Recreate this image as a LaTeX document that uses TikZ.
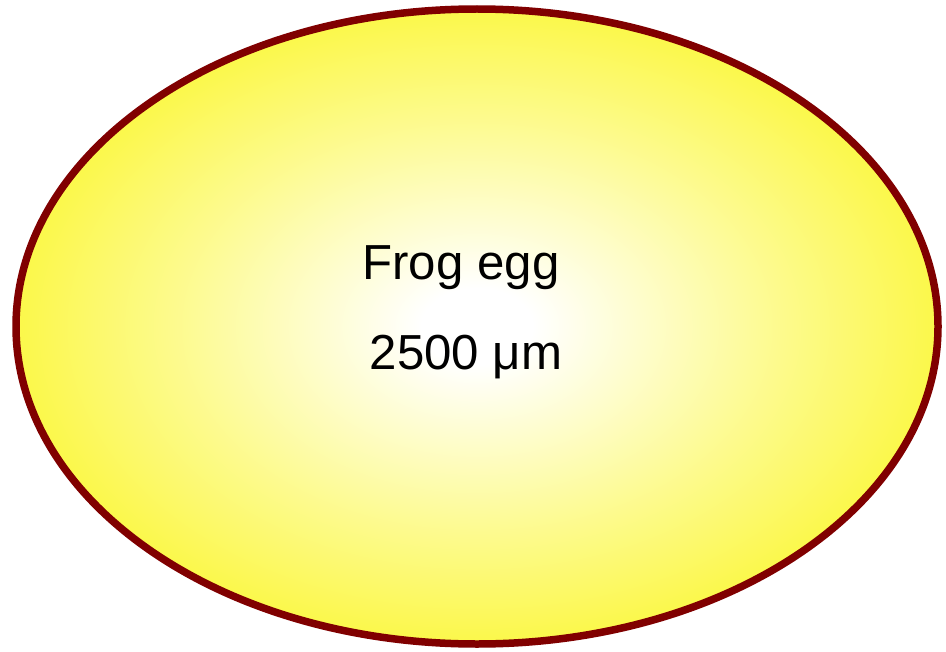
\documentclass[tikz,border=0pt]{standalone}
\usepackage{fontspec}
\setmainfont{Liberation Sans}
\usepackage{tikz}
\usetikzlibrary{positioning}
\definecolor{eggborder}{RGB}{128,0,0}
\definecolor{eggyellow}{RGB}{250,245,10}
\pgfdeclareradialshading{eggshade}{\pgfpoint{0bp}{0bp}}{%
  color(0bp)=(white); color(3bp)=(white);
  color(16bp)=(eggyellow!45!white); color(30bp)=(eggyellow!90!white);
  color(38bp)=(eggyellow); color(60bp)=(eggyellow)}

\begin{document}
\begin{tikzpicture}[
    x=0.02cm, y=-0.02cm,
    egg/.style={draw=eggborder, line width=0.15cm, shading=eggshade},
    eggtext/.style={font=\fontsize{28}{33}\selectfont, inner sep=0pt, anchor=base}
]
  \useasboundingbox (0,0) rectangle (946,652);
  % Egg outline
  \path[egg] (477,326.5) ellipse [x radius=461, y radius=317.5];

  % Labels
  \node[eggtext] (name) at (461,279) {Frog egg};
  \node[eggtext] (size) at (466,369) {2500 μm};
\end{tikzpicture}
\end{document}
